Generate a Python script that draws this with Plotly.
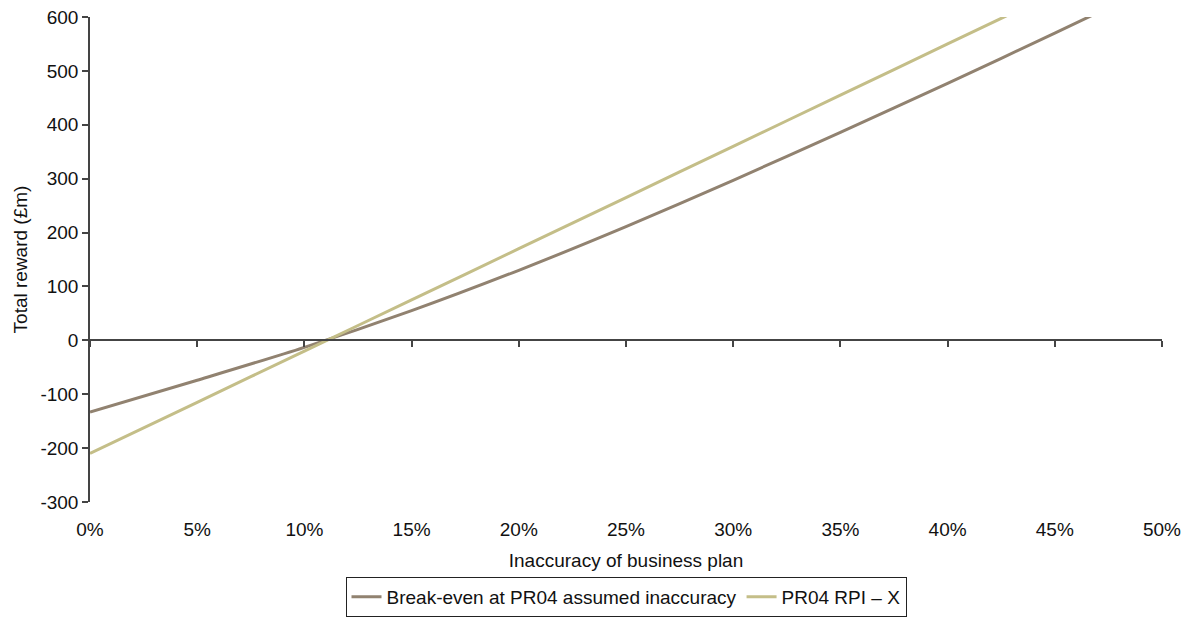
import plotly.graph_objects as go

inaccuracy = [0.00, 0.05, 0.10, 0.15, 0.20, 0.25, 0.30, 0.35, 0.40, 0.45, 0.50]
break_even = [-133, -74, -13, 55, 130, 211, 297, 386, 477, 570, 665]
rpi_x = [-210, -115, -20, 75, 170, 265, 360, 455, 550, 645, 740]

y_ticks = [-300, -200, -100, 0, 100, 200, 300, 400, 500, 600]
y_tick_labels = ["-300", "-200", "-100", "0", "100", "200", "300", "400", "500", "600"]

series_names = ["Break-even at PR04 assumed inaccuracy", "PR04 RPI \u2013 X"]
colors = ["#918270", "#C4BE88"]

FONT = "Liberation Sans, Arial, sans-serif"
AX = "#444444"
FS = 19

fig = go.Figure()
for name, ys, c in zip(series_names, [break_even, rpi_x], colors):
    fig.add_trace(go.Scatter(x=inaccuracy, y=ys, mode="lines", name=name,
                             line=dict(color=c, width=3, shape="spline", smoothing=0.8),
                             cliponaxis=True))

fig.update_layout(
    width=1195, height=619,
    margin=dict(l=90, r=33, t=17, b=117, autoexpand=False),
    paper_bgcolor="white", plot_bgcolor="white",
    font=dict(family=FONT, size=FS, color="#111111"),
    showlegend=True,
    legend=dict(orientation="h", x=0.5, xanchor="center", y=-0.237, yanchor="bottom",
                bordercolor="#222222", borderwidth=1, font=dict(size=FS),
                tracegroupgap=0),
    xaxis=dict(range=[0, 0.5], tickvals=inaccuracy, tickformat=".0%", automargin=False,
               showgrid=False, zeroline=False, showline=False, ticks="",
               ticklabelstandoff=14,
               title=dict(text="Inaccuracy of business plan", standoff=14, font=dict(size=FS))),
    xaxis2=dict(range=[0, 0.5], overlaying="x", anchor="free", position=1/3, side="bottom",
                tickvals=inaccuracy, showticklabels=False, showgrid=False, zeroline=False,
                showline=True, linecolor=AX, linewidth=1.5, automargin=False,
                ticks="outside", ticklen=6, tickcolor=AX, tickwidth=1.5),
    yaxis=dict(range=[-300, 600], tickvals=y_ticks, ticktext=y_tick_labels, automargin=False,
               showgrid=False, zeroline=False, showline=True, linecolor=AX, linewidth=1.5,
               ticks="outside", ticklen=6, tickcolor=AX, tickwidth=1.5,
               title=dict(text="Total reward (\u00a3m)", standoff=8, font=dict(size=FS))),
)
fig.add_trace(go.Scatter(x=[0, 0.5], y=[None, None], xaxis="x2", showlegend=False,
                         hoverinfo="skip", mode="lines"))

fig.write_html("out.html")
